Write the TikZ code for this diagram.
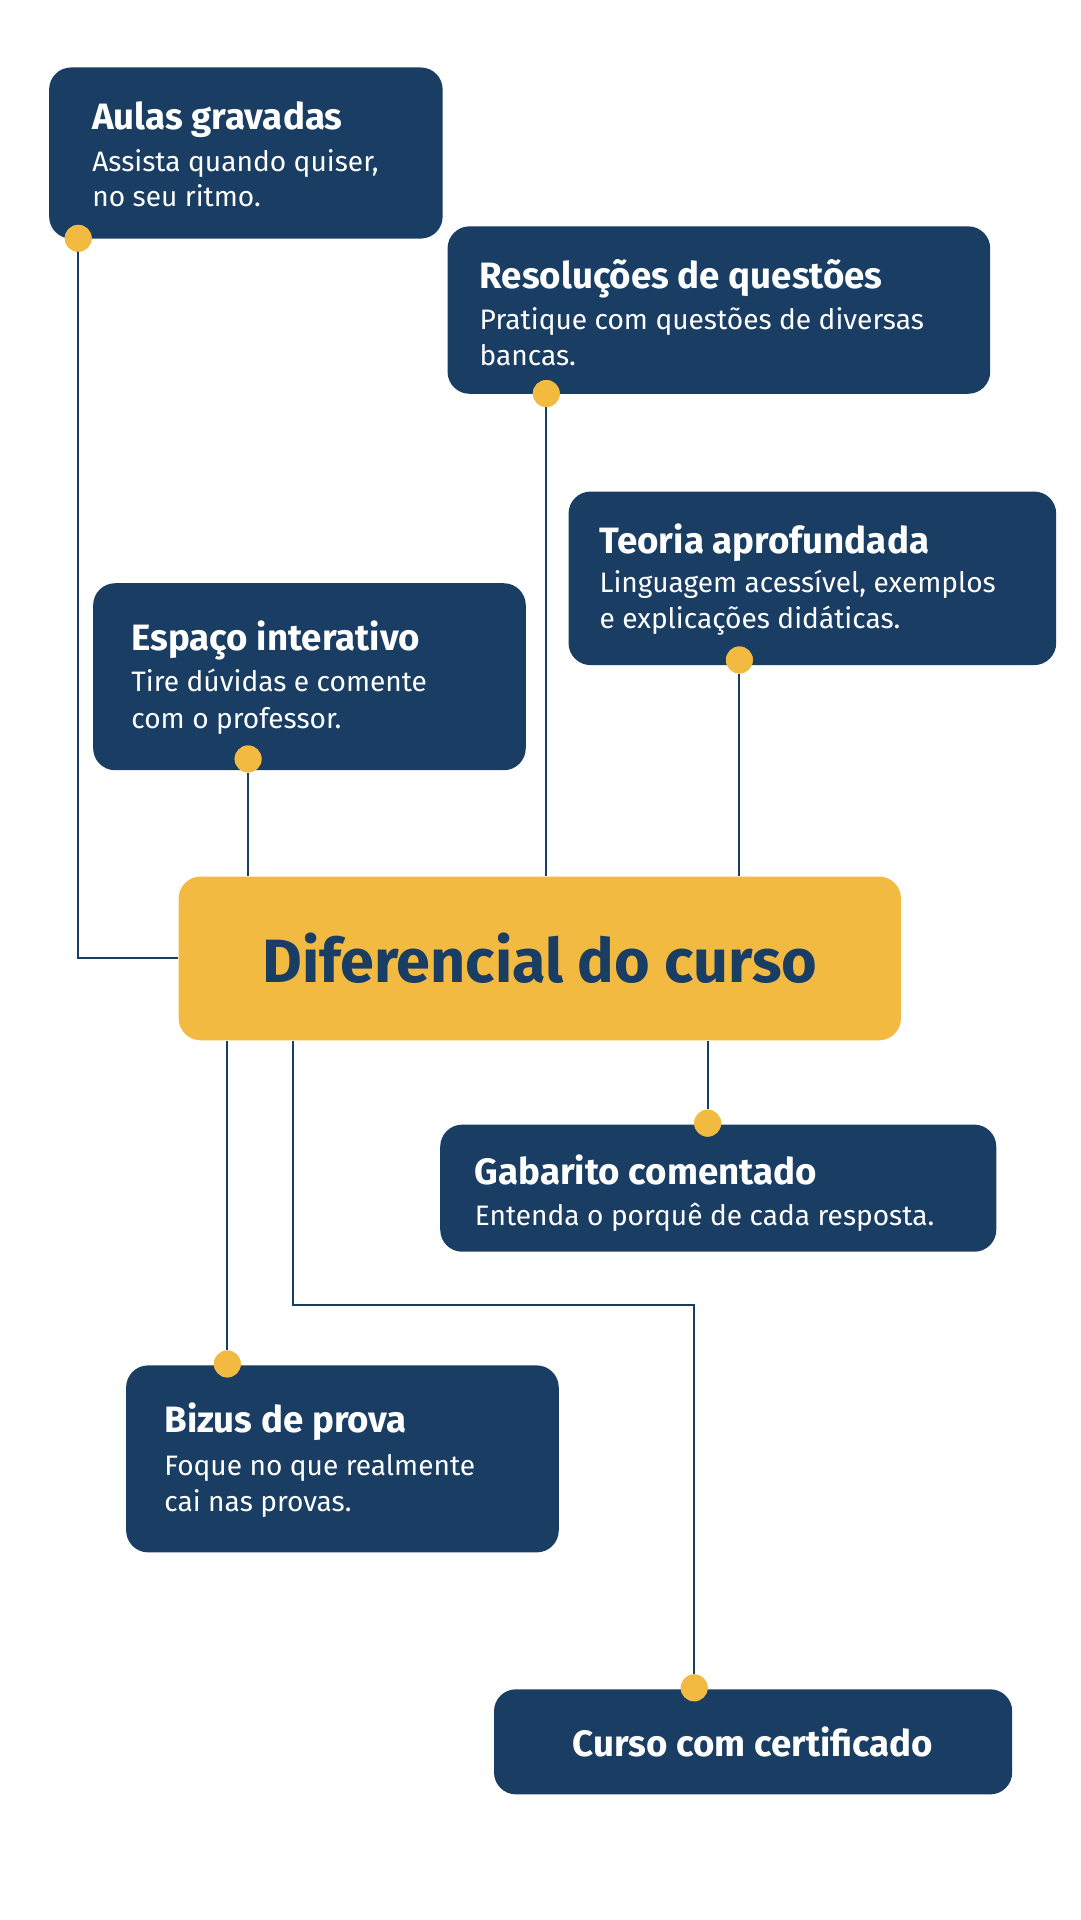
\documentclass[tikz,border=0pt]{standalone}
\usepackage{fontspec}
\setmainfont{Fira Sans}
\definecolor{navy}{HTML}{1A3E63}
\definecolor{gold}{HTML}{F3BA42}
\begin{document}
\begin{tikzpicture}[x=1pt,y=-1pt,
    card/.style = {draw=none,fill=navy,rounded corners=18pt,anchor=north west,inner sep=0pt},
    ttl/.style = {anchor=base west,text=white,font=\fontsize{30}{34}\selectfont\bfseries},
    txt/.style = {anchor=base west,text=white,font=\fontsize{23}{28}\selectfont},
    dot/.style = {circle,fill=gold,inner sep=0pt,minimum size=22pt},
    link/.style = {draw=navy,line width=1.6pt}]
  \fill[white] (0,0) rectangle (884,1571);
  % cards
  \node[card,minimum width=322,minimum height=140] (aulas) at (40,55) {};
  \node[ttl] at (72,106) {Aulas gravadas};
  \node[txt] at (72,140) {Assista quando quiser,};
  \node[txt] at (72,169) {no seu ritmo.};
  \node[card,minimum width=444,minimum height=137] (resol) at (366,185) {};
  \node[ttl] at (389,236) {Resoluções de questões};
  \node[txt] at (389,270) {Pratique com questões de diversas};
  \node[txt] at (389,299) {bancas.};
  \node[card,minimum width=399,minimum height=142] (teoria) at (465,402) {};
  \node[ttl] at (487,453) {Teoria aprofundada};
  \node[txt] at (487,485) {Linguagem acessível, exemplos};
  \node[txt] at (487,514) {e explicações didáticas.};
  \node[card,minimum width=354,minimum height=153] (espaco) at (76,477) {};
  \node[ttl] at (104,532) {Espaço interativo};
  \node[txt] at (104,566) {Tire dúvidas e comente};
  \node[txt] at (104,596) {com o professor.};
  \node[card,minimum width=455,minimum height=104] (gabarito) at (360,920) {};
  \node[ttl] at (385,969) {Gabarito comentado};
  \node[txt] at (385,1003) {Entenda o porquê de cada resposta.};
  \node[card,minimum width=354,minimum height=153] (bizus) at (103,1117) {};
  \node[ttl] at (131,1172) {Bizus de prova};
  \node[txt] at (131,1207) {Foque no que realmente};
  \node[txt] at (131,1237) {cai nas provas.};
  \node[card,minimum width=424,minimum height=86] (cert) at (404,1382) {};
  \node[ttl] at (cert.center) [anchor=center] {Curso com certificado};
  % centre
  \node[card,fill=gold,minimum width=591,minimum height=134,text=navy,
    font=\fontsize{50}{56}\selectfont\bfseries] (diff) at (146,717) {};
  \node[text=navy,font=\fontsize{50}{56}\selectfont\bfseries] at (diff.center) {Diferencial do curso};
  % links
  \node[dot] (dA) at (64,195) {};
  \node[dot] (dR) at (447,322) {};
  \node[dot] (dT) at (605,540) {};
  \node[dot] (dE) at (203,621) {};
  \node[dot] (dG) at (579,919) {};
  \node[dot] (dB) at (186,1116) {};
  \node[dot] (dC) at (568,1381) {};
  \coordinate (bend) at (240,1068);
  \draw[link] (dA.center) |- (diff.west);
  \draw[link] (dR) -- (dR |- diff.north);
  \draw[link] (dT) -- (dT |- diff.north);
  \draw[link] (dE) -- (dE |- diff.north);
  \draw[link] (dG) -- (dG |- diff.south);
  \draw[link] (dB) -- (dB |- diff.south);
  \draw[link] (bend |- diff.south) -- (bend) -| (dC);
  \foreach \d in {dA,dR,dT,dE,dG,dB,dC} \node[dot] at (\d) {};
\end{tikzpicture}
\end{document}
